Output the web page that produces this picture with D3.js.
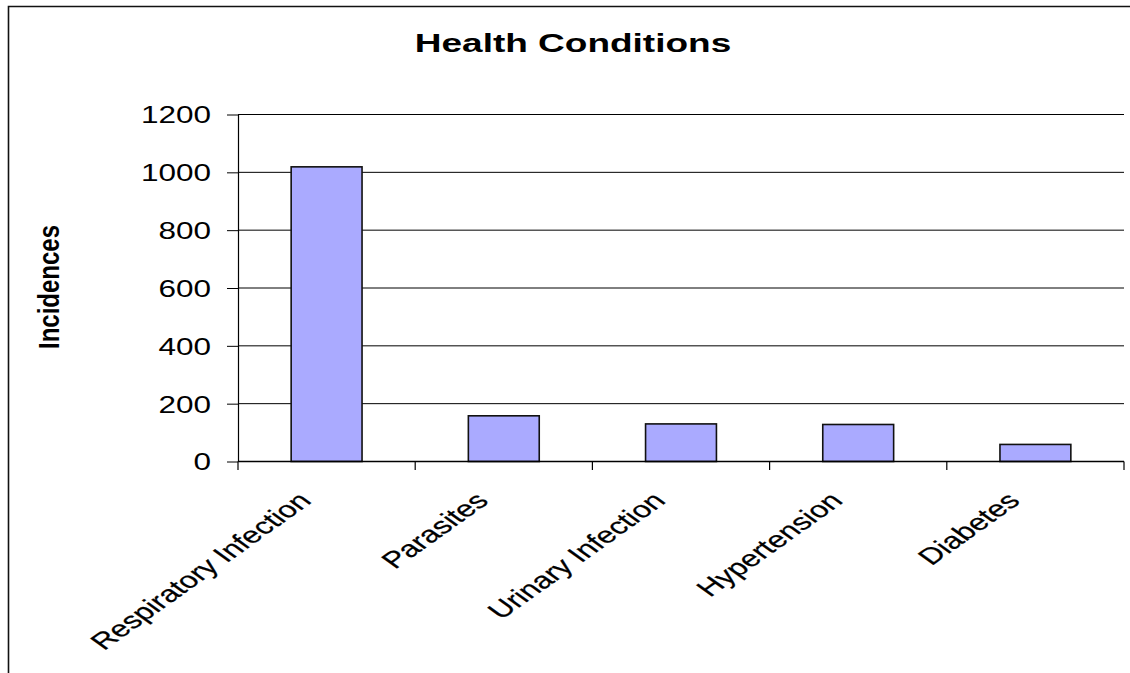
<!DOCTYPE html>
<html>
<head>
<meta charset="utf-8">
<script src="https://cdn.jsdelivr.net/npm/d3@7"></script>
<style>
  html, body { margin: 0; padding: 0; background: #fff; overflow: hidden; }
  svg { display: block; font-family: "Liberation Sans", Arial, sans-serif; }
</style>
</head>
<body>
<svg id="chart" width="1130" height="673"></svg>
<script>
const categories = ["Respiratory Infection", "Parasites", "Urinary Infection", "Hypertension", "Diabetes"];
const incidences = [1019, 158, 130, 128, 59];
const yTicks = [0, 200, 400, 600, 800, 1000, 1200];
const chartTitle = "Health Conditions";
const yAxisTitle = "Incidences";

const svg = d3.select("#chart");
const plot = { left: 238, right: 1124, top: 114.5, bottom: 461.5 };

// outer chart border (only top and left visible, cropped)
svg.append("path")
  .attr("d", "M8.5,673 L8.5,6.5 L1130,6.5")
  .attr("fill", "none").attr("stroke", "#111").attr("stroke-width", 1.6);

const x = d3.scaleBand().domain(categories).range([plot.left, plot.right]).padding(0);
const y = d3.scaleLinear().domain([0, 1200]).range([plot.bottom, plot.top]);

// gridlines
svg.append("g")
  .selectAll("line").data(yTicks.filter(d => d > 0)).join("line")
  .attr("x1", plot.left).attr("x2", plot.right)
  .attr("y1", d => y(d)).attr("y2", d => y(d))
  .attr("stroke", "#000").attr("stroke-width", 1);

// y axis
const yAxis = svg.append("g")
  .attr("transform", `translate(${plot.left},0)`)
  .call(d3.axisLeft(y).tickValues(yTicks).tickSize(11).tickSizeOuter(0).tickFormat(d3.format("d")));
yAxis.select(".domain").attr("stroke", "#000").attr("stroke-width", 1.2);
yAxis.selectAll(".tick line").attr("stroke", "#000").attr("stroke-width", 1);
yAxis.selectAll(".tick text")
  .attr("x", 0).attr("dy", "0.36em")
  .attr("transform", "translate(-27,0) scale(1.34,1)")
  .attr("text-anchor", "end")
  .attr("font-family", "Liberation Sans, Arial, sans-serif")
  .attr("font-size", 23.5).attr("fill", "#000");

// bars
const barW = x.bandwidth() * 0.4;
svg.append("g")
  .selectAll("rect").data(categories).join("rect")
  .attr("x", d => x(d) + (x.bandwidth() - barW) / 2)
  .attr("width", barW)
  .attr("y", (d, i) => y(incidences[i]))
  .attr("height", (d, i) => y(0) - y(incidences[i]))
  .attr("fill", "#AAAAFF").attr("stroke", "#111").attr("stroke-width", 1.6);

// x axis line and boundary ticks
const xAxisG = svg.append("g");
xAxisG.append("line")
  .attr("x1", plot.left).attr("x2", plot.right)
  .attr("y1", y(0)).attr("y2", y(0))
  .attr("stroke", "#000").attr("stroke-width", 1.4);
const bounds = categories.map(c => x(c)).concat([x(categories[categories.length - 1]) + x.bandwidth()]);
xAxisG.selectAll("line.tk").data(bounds).join("line").attr("class", "tk")
  .attr("x1", d => d).attr("x2", d => d)
  .attr("y1", y(0)).attr("y2", y(0) + 8.5)
  .attr("stroke", "#000").attr("stroke-width", 1.2);

// x labels rotated
xAxisG.selectAll("text").data(categories).join("text")
  .attr("transform", d => `translate(${x(d) + x.bandwidth() / 2 - 14},502) scale(1.4,1) rotate(-45)`)
  .attr("text-anchor", "end")
  .attr("font-size", 23).attr("fill", "#000")
  .attr("stroke", "#000").attr("stroke-width", 0.25)
  .text(d => d);

// title
svg.append("text")
  .attr("transform", "translate(573,52) scale(1.48,1)")
  .attr("text-anchor", "middle")
  .attr("font-weight", "bold").attr("font-size", 25).attr("fill", "#000")
  .text(chartTitle);

// y axis title
svg.append("text")
  .attr("transform", "translate(59,287) scale(1.22,1) rotate(-90)")
  .attr("text-anchor", "middle")
  .attr("font-weight", "bold").attr("font-size", 24).attr("fill", "#000")
  .text(yAxisTitle);
</script>
</body>
</html>
